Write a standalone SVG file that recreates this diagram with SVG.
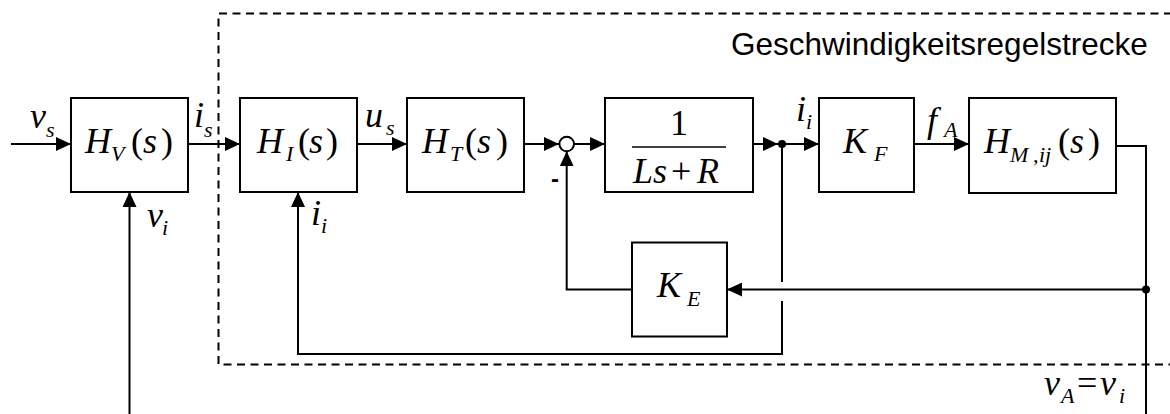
<svg xmlns="http://www.w3.org/2000/svg" width="1170" height="414" viewBox="0 0 1170 414">
<style>
.box{fill:#fff;stroke:#000;stroke-width:2}
.ln{fill:none;stroke:#000;stroke-width:2}
.arr{fill:none;stroke:#000;stroke-width:2;marker-end:url(#ah)}
.dash{fill:none;stroke:#000;stroke-width:2;stroke-dasharray:8 5.5}
.m{font-family:"Liberation Serif","Times New Roman",serif;font-style:italic;font-size:36px;fill:#000}
.r{font-family:"Liberation Serif","Times New Roman",serif;font-size:36px;fill:#000}
.sub{font-family:"Liberation Serif","Times New Roman",serif;font-style:italic;font-size:22px;fill:#000}
.sans{font-family:"Liberation Sans",Arial,sans-serif;fill:#000}
</style>
<defs>
<marker id="ah" viewBox="0 0 15 14" refX="15" refY="7" markerWidth="15" markerHeight="14" markerUnits="userSpaceOnUse" orient="auto">
<path d="M0,0 L15,7 L0,14 z" fill="#000"/>
</marker>
</defs>
<rect width="1170" height="414" fill="#fff"/>

<g id="plant-boundary">
<path class="dash" d="M1172,13.5 H218.5 V364.5 H1172"/>
<text class="sans" x="731" y="55" font-size="31.5">Geschwindigkeitsregelstrecke</text>
</g>

<g id="connectors">
<path class="arr" d="M11,144 H71"/>
<path class="arr" d="M188,144 H240"/>
<path class="arr" d="M357,144 H407"/>
<path class="arr" d="M524,144 H559"/>
<path class="arr" d="M574,144 H605"/>
<path class="arr" d="M753,144 H778"/>
<path class="ln" d="M778,144 H790"/>
<path class="arr" d="M782,144 H819"/>
<path class="arr" d="M914,144 H969"/>
<path class="ln" d="M1116,146 H1146 V414"/>
<path class="arr" d="M1146,289.5 H727"/>
<path class="arr" d="M632,289.5 H566.7 V151.3"/>
<path class="ln" d="M782,144 V282"/>
<path class="arr" d="M782,301 V354 H298 V192"/>
<path class="arr" d="M129.5,414 V192"/>
<circle cx="782" cy="144" r="4" fill="#000"/>
<circle cx="1146" cy="289.5" r="4" fill="#000"/>
<text class="m" x="30" y="128">v</text><text class="sub" x="46" y="137">s</text>
<text class="m" x="194" y="127">i</text><text class="sub" x="204" y="137">s</text>
<text class="m" x="365" y="127">u</text><text class="sub" x="386" y="135">s</text>
<text class="m" x="147" y="227">v</text><text class="sub" x="162" y="235">i</text>
<text class="m" x="311" y="225">i</text><text class="sub" x="321" y="233">i</text>
<text class="m" x="796" y="121">i</text><text class="sub" x="806" y="129">i</text>
<text class="m" x="927" y="132">f</text><text class="sub" x="944" y="137">A</text>
<text class="sans" x="551" y="187" font-size="24" font-weight="bold">-</text>
<text class="m" x="1044" y="395">v</text><text class="sub" x="1061" y="403">A</text>
<text class="r" x="1077" y="395">=</text>
<text class="m" x="1100" y="395">v</text><text class="sub" x="1119" y="403">i</text>
</g>

<g id="HV">
<rect class="box" x="71" y="98" width="117" height="94"/>
<text class="m" x="85" y="153">H</text><text class="sub" x="111" y="161">V</text>
<text class="r" x="131" y="153">(</text><text class="m" x="143" y="153">s</text><text class="r" x="161" y="153">)</text>
</g>

<g id="HI">
<rect class="box" x="240" y="98" width="117" height="94"/>
<text class="m" x="257" y="153">H</text><text class="sub" x="286" y="161">I</text>
<text class="r" x="298" y="153">(</text><text class="m" x="309" y="153">s</text><text class="r" x="326" y="153">)</text>
</g>

<g id="HT">
<rect class="box" x="407" y="98" width="117" height="94"/>
<text class="m" x="422" y="153">H</text><text class="sub" x="450" y="161">T</text>
<text class="r" x="465" y="153">(</text><text class="m" x="477" y="153">s</text><text class="r" x="496" y="153">)</text>
</g>

<g id="sum">
<circle cx="566.7" cy="144" r="7.3" fill="#fff" stroke="#000" stroke-width="2"/>
</g>

<g id="LsR">
<rect class="box" x="605" y="98" width="148" height="94"/>
<text class="r" x="679" y="135" text-anchor="middle">1</text>
<line x1="632" y1="147" x2="726" y2="147" stroke="#000" stroke-width="1.5"/>
<text class="m" x="633" y="183" font-size="34">L</text><text class="m" x="653" y="183" font-size="34">s</text>
<text class="r" x="671" y="183" font-size="34">+</text><text class="m" x="697" y="183" font-size="34">R</text>
</g>

<g id="KF">
<rect class="box" x="819" y="98" width="95" height="94"/>
<text class="m" x="843" y="153">K</text><text class="sub" x="874" y="161">F</text>
</g>

<g id="HM">
<rect class="box" x="969" y="98" width="147" height="95"/>
<text class="m" x="984" y="153">H</text>
<text class="sub" x="1010" y="162">M</text><text class="sub" x="1033" y="162">,</text><text class="sub" x="1039" y="162">ij</text>
<text class="r" x="1058" y="153">(</text><text class="m" x="1070" y="153">s</text><text class="r" x="1088" y="153">)</text>
</g>

<g id="KE">
<rect class="box" x="632" y="242.5" width="95" height="94"/>
<text class="m" x="657" y="297">K</text><text class="sub" x="687" y="306">E</text>
</g>
</svg>
